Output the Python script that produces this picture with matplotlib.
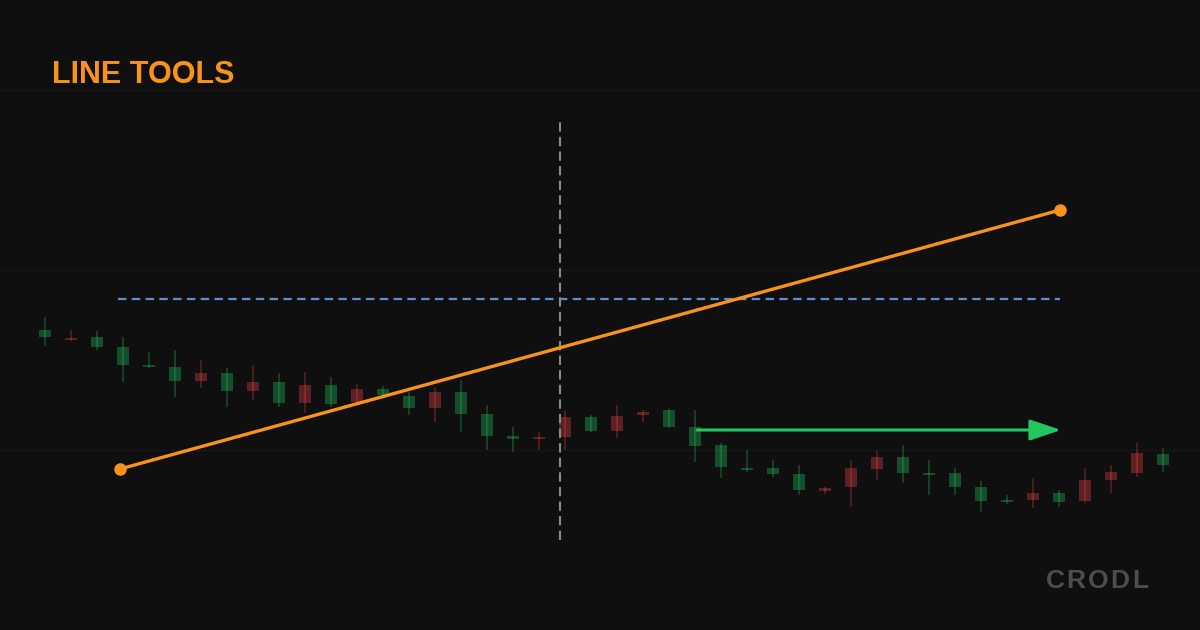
import matplotlib.pyplot as plt
import numpy as np

# candle data (price units)
opens = [293, 292, 283, 265, 263, 249, 257, 239, 248, 227, 245, 226, 241, 235, 222,
         238, 216, 194, 191, 193, 213, 199, 214, 218, 203, 184, 163, 160, 156, 140,
         142, 162, 173, 157, 155, 143, 129, 128, 137, 128, 150, 158, 177, 165]
closes = [300, 290, 293, 283, 265, 263, 249, 257, 239, 248, 227, 245, 228, 241, 234,
          222, 238, 216, 194, 191, 193, 213, 199, 215, 220, 203, 185, 162, 162, 156,
          139, 143, 161, 173, 157, 157, 143, 130, 130, 137, 129, 150, 157, 176]
highs = [313, 300, 299, 293, 278, 280, 270, 262, 265, 257, 258, 253, 246, 244, 238,
         242, 250, 225, 203, 198, 220, 215, 225, 220, 221, 220, 187, 180, 170, 165,
         143, 170, 179, 185, 170, 162, 149, 135, 152, 140, 162, 165, 187, 182]
lows = [284, 289, 280, 248, 262, 233, 242, 223, 230, 223, 217, 223, 226, 232, 215,
        208, 198, 180, 178, 180, 180, 198, 192, 208, 202, 168, 152, 158, 153, 135,
        136, 123, 150, 147, 135, 135, 118, 126, 122, 123, 127, 137, 153, 158]

# drawing tools
trend_x = [2.885, 39.04]
trend_y = [161, 420]
hline_price = 331
hline_x = [2.81, 39.04]
vline_x = 19.8
vline_y = [90, 512]
arrow_x = [25.08, 39.08]
arrow_price = 200

grid_prices = [540, 360, 180]

BG = "#0f0f0f"
ORANGE = "#f7931a"
GREEN = "#22c55e"
RED = "#ef4444"


def spaced_text(ax, fig, x_right, y, text, spacing, **kw):
    # draw letters one by one so we get some letter spacing
    renderer = fig.canvas.get_renderer()
    widths = []
    for ch in text:
        t = ax.text(0, 0, ch, transform=None, **kw)
        widths.append(t.get_window_extent(renderer).width)
        t.remove()
    total = sum(widths) + spacing * (len(text) - 1)
    x = x_right - total
    for ch, w in zip(text, widths):
        ax.text(x, y, ch, transform=None, ha="left", va="baseline", **kw)
        x += w + spacing


fig = plt.figure(figsize=(12, 6.3), dpi=100, facecolor=BG)
ax = fig.add_axes([0, 0, 1, 1])
ax.set_facecolor(BG)
ax.set_xlim(-45 / 26, 1155 / 26)
ax.set_ylim(0, 630)
ax.axis("off")

for p in grid_prices:
    ax.axhline(p, color="#171717", lw=1, zorder=1)

# candles
idx = np.arange(len(opens))
for i in idx:
    o, c, h, l = opens[i], closes[i], highs[i], lows[i]
    col = GREEN if c >= o else RED
    ax.vlines(i, l, h, color=col, alpha=0.32, lw=1.2, zorder=2)
    ax.bar(i, max(abs(c - o), 2), bottom=min(o, c), width=0.46,
           color=col, alpha=0.35, lw=0, zorder=2)

# horizontal dashed line
ax.plot(hline_x, [hline_price, hline_price], color="#5b8fd0", lw=1.6,
        dashes=(3.8, 2.4), zorder=4)

# vertical dashed line
ax.plot([vline_x, vline_x], vline_y, color="#8a8a8a", lw=1.5,
        dashes=(4.5, 2.5), zorder=4)

# trend line
ax.plot(trend_x, trend_y, color=ORANGE, lw=2.4, marker="o", markersize=8,
        zorder=5, solid_capstyle="round")

# horizontal ray arrow
ax.annotate("", xy=(arrow_x[1], arrow_price), xytext=(arrow_x[0], arrow_price),
            arrowprops=dict(arrowstyle="-|>,head_length=0.95,head_width=0.32",
                            mutation_scale=20, color=GREEN, lw=2.2,
                            shrinkA=0, shrinkB=0),
            zorder=5)

# title and watermark
fig.text(52 / 1200, 1 - 83 / 630, "LINE TOOLS", color=ORANGE, fontsize=22,
         fontweight="bold", family=["Liberation Sans", "DejaVu Sans"],
         ha="left", va="baseline")
spaced_text(ax, fig, 1148, 630 - 588, "CRODL", 2.2, color="#4d4d4d",
            fontsize=19, fontweight="bold",
            family=["Liberation Sans", "DejaVu Sans"])

fig.savefig("out.png", dpi=100, facecolor=BG)
